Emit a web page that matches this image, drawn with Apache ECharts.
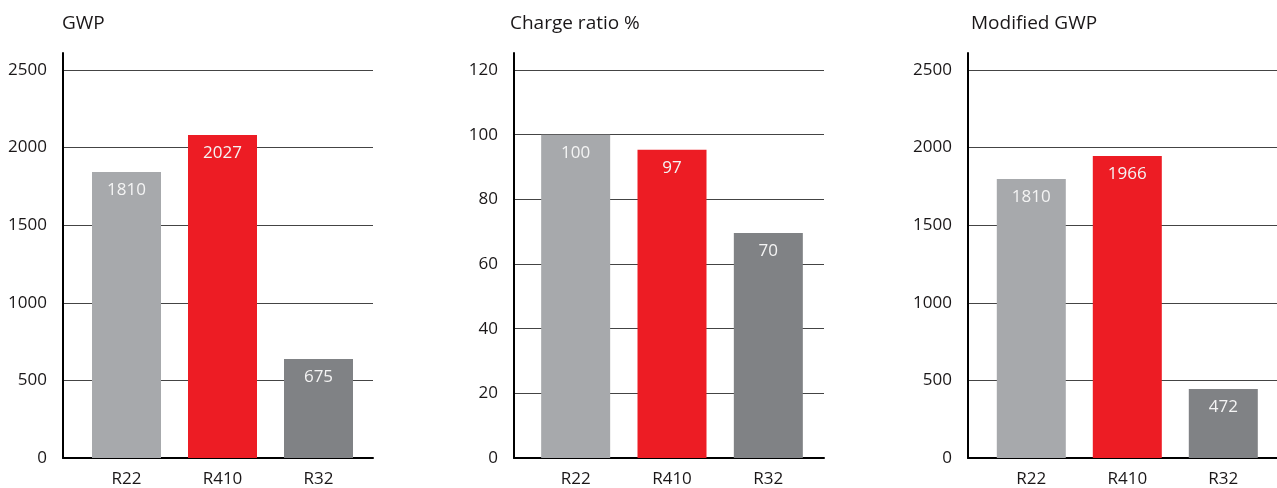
<!DOCTYPE html>
<html>
<head>
<meta charset="utf-8">
<script src="https://cdn.jsdelivr.net/npm/echarts@6/dist/echarts.min.js"></script>
<style>
html,body{margin:0;padding:0;background:#fff;}
#chart{width:1277px;height:488px;}
</style>
</head>
<body>
<div id="chart"></div>
<script>
// ---- data ----
var categories = ['R22', 'R410', 'R32'];
var titles = ['GWP', 'Charge ratio %', 'Modified GWP'];

var gwpValues = [1843, 2081, 638];
var gwpLabels = ['1810', '2027', '675'];

var chargeValues = [100, 95.3, 69.6];
var chargeLabels = ['100', '97', '70'];

var modGwpValues = [1798, 1946, 445];
var modGwpLabels = ['1810', '1966', '472'];

var gwpTicks = {min: 0, max: 2500, interval: 500};
var chargeTicks = {min: 0, max: 120, interval: 20};

var barColors = ['#a7a9ac', '#ed1c24', '#808285'];

// ---- layout ----
var panels = [
  {title: titles[0], values: gwpValues, labels: gwpLabels, ticks: gwpTicks,
   axisLeft: 63, axisRight: 373, barLeft: 78.5, barWidthTotal: 288, titleLeft: 62},
  {title: titles[1], values: chargeValues, labels: chargeLabels, ticks: chargeTicks,
   axisLeft: 514, axisRight: 824, barLeft: 527.5, barWidthTotal: 289, titleLeft: 510},
  {title: titles[2], values: modGwpValues, labels: modGwpLabels, ticks: gwpTicks,
   axisLeft: 968, axisRight: 1277, barLeft: 983.3, barWidthTotal: 288, titleLeft: 971}
];

var FONT = 'Open Sans';
var TEXT = '#1a1718';

var option = {
  animation: false,
  backgroundColor: '#fff',
  title: [], grid: [], xAxis: [], yAxis: [], series: []
};

panels.forEach(function (p, i) {
  var gLine = i * 3, gSplit = i * 3 + 1, gBar = i * 3 + 2;
  option.title.push({
    text: p.title, left: p.titleLeft, top: 14, padding: 0,
    textStyle: {fontFamily: FONT, fontSize: 19, fontWeight: 'normal', color: TEXT}
  });
  option.grid.push({left: p.axisLeft, width: p.axisRight - p.axisLeft, top: 53, bottom: 30, containLabel: false});
  option.grid.push({left: p.axisLeft, width: p.axisRight - p.axisLeft, top: 70, bottom: 30, containLabel: false});
  option.grid.push({left: p.barLeft, width: p.barWidthTotal, top: 70, bottom: 30, containLabel: false});

  option.xAxis.push({gridIndex: gLine, type: 'value', show: false});
  option.yAxis.push({gridIndex: gLine, type: 'value', min: 0, max: 1,
    axisLine: {show: true, lineStyle: {color: '#000', width: 2}},
    axisTick: {show: false}, axisLabel: {show: false}, splitLine: {show: false}});

  option.xAxis.push({gridIndex: gSplit, type: 'value', min: 0, max: 1,
    axisLine: {show: true, onZero: false, lineStyle: {color: '#000', width: 2}},
    axisTick: {show: false}, axisLabel: {show: false}, splitLine: {show: false}});
  option.yAxis.push({gridIndex: gSplit, type: 'value',
    min: p.ticks.min, max: p.ticks.max, interval: p.ticks.interval,
    axisLine: {show: false}, axisTick: {show: false},
    axisLabel: {margin: 16, fontFamily: FONT, fontSize: 17, color: TEXT,
      formatter: function (v) { return String(v); }},
    splitLine: {show: true, lineStyle: {color: '#444', width: 1.2}}});

  option.xAxis.push({gridIndex: gBar, type: 'category', data: categories,
    axisLine: {show: false}, axisTick: {show: false},
    axisLabel: {margin: 13, fontFamily: FONT, fontSize: 17, color: TEXT},
    splitLine: {show: false}});
  option.yAxis.push({gridIndex: gBar, type: 'value',
    min: p.ticks.min, max: p.ticks.max, interval: p.ticks.interval, show: false});

  var labels = p.labels;
  option.series.push({
    type: 'bar', xAxisIndex: gBar, yAxisIndex: gBar, barWidth: 69,
    data: p.values.map(function (v, k) {
      return {value: v, itemStyle: {color: barColors[k]}};
    }),
    label: {show: true, position: 'insideTop', distance: 10,
      fontFamily: FONT, fontSize: 17, color: '#f4f4f4',
      formatter: function (params) { return labels[params.dataIndex]; }},
    z: 3
  });
});

var chart = echarts.init(document.getElementById('chart'), null, {renderer: 'canvas'});
chart.setOption(option);
</script>
</body>
</html>
